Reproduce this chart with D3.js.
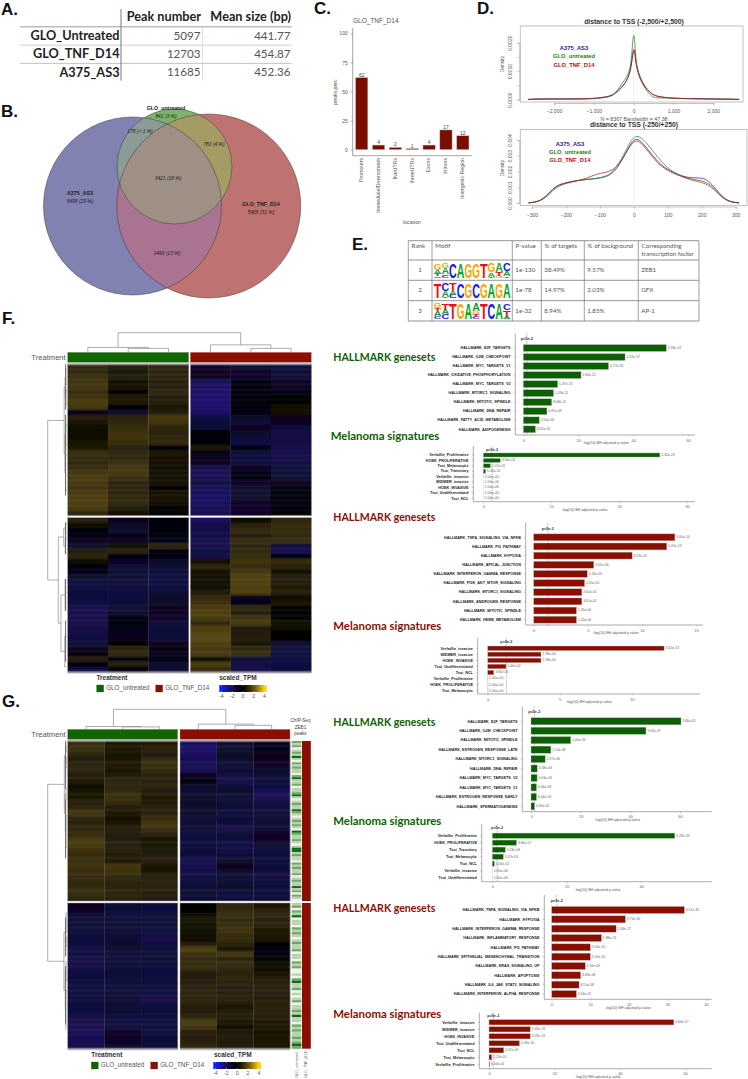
<!DOCTYPE html>
<html><head><meta charset="utf-8">
<script src="https://cdn.jsdelivr.net/npm/d3@7"></script>
<style>html,body{margin:0;padding:0;background:#fff}svg{display:block}text{font-family:"Liberation Sans",Arial,sans-serif}</style>
</head><body><div id="c"></div>
<script>
// ---------- DATA ----------
const tableAHead=["Peak number","Mean size (bp)"];
const tableARows=["GLO_Untreated","GLO_TNF_D14","A375_AS3"];
const tableAPeaks=["5097","12703","11685"];
const tableASizes=["441.77","454.87","452.36"];

const vennSets=["A375_AS3","GLO_TNF_D14","GLO_untreated"];

const locCats=["Promoters","Immediate/Downstream","fiveUTRs","threeUTRs","Exons","Introns","Intergenic Region"];
const locVals=[62,4,2,1,4,17,12];

const d1X=[-2650,-2400,-2000,-1500,-1000,-800,-600,-500,-400,-300,-200,-120,-60,-20,10,30,60,120,200,300,400,500,600,800,1000,1500,2000,2400,2650];
const d1Blue=[.00001,.00003,.00002,.00003,.00004,.00008,.00012,.00019,.00032,.00044,.00060,.00082,.00115,.00165,.00175,.00165,.00122,.00088,.00064,.00042,.00027,.00017,.00011,.00007,.00005,.00003,.00003,.00002,.00001];
const d1Green=[.00001,.00002,.00003,.00002,.00003,.00006,.00010,.00018,.00035,.00055,.00074,.00095,.00130,.00215,.00233,.00200,.00130,.00090,.00060,.00036,.00020,.00007,.00006,.00006,.00005,.00003,.00002,.00002,.00001];
const d1Red=[.00001,.00002,.00003,.00002,.00004,.00007,.00012,.00018,.00028,.00042,.00062,.00085,.00120,.00170,.00180,.00170,.00130,.00095,.00068,.00043,.00026,.00016,.00012,.00008,.00005,.00004,.00002,.00002,.00001];

const d2X=[-310,-290,-270,-250,-230,-200,-170,-140,-110,-80,-55,-30,-10,5,20,40,70,100,130,160,190,210,230,250,270,290,310];
const d2Blue=[.00001,.00005,.00020,.00060,.00110,.00130,.00142,.00150,.00155,.00165,.00200,.00290,.00375,.00412,.00395,.00345,.00260,.00210,.00180,.00160,.00160,.00155,.00120,.00065,.00022,.00005,.00001];
const d2Green=[.00001,.00004,.00018,.00052,.00100,.00125,.00140,.00150,.00155,.00170,.00210,.00305,.00395,.00427,.00420,.00375,.00290,.00220,.00180,.00150,.00135,.00125,.00098,.00055,.00018,.00004,.00001];
const d2Red=[.00001,.00006,.00022,.00062,.00108,.00128,.00140,.00155,.00185,.00195,.00215,.00290,.00370,.00400,.00385,.00335,.00250,.00205,.00175,.00155,.00145,.00135,.00108,.00060,.00020,.00005,.00001];

const motifHead=["Rank","Motif","P-value","% of targets","% of background","Corresponding"];
const motifRank=["1","2","3"];
const motifP=["1e-130","1e-78","1e-32"];
const motifTargets=["38.49%","14.97%","8.94%"];
const motifBg=["9.57%","2.03%","1.85%"];
const motifTF=["ZEB1","GFX","AP-1"];
const logo1=[[["C",.12],["T",.13],["A",.3],["G",.45]],[["C",.15],["T",.1],["A",.4],["G",.35]],[["C",1]],[["A",1]],[["G",1]],[["G",1]],[["T",1]],[["T",.1],["A",.3],["G",.6]],[["G",.15],["T",.25],["A",.6]],[["T",.12],["A",.33],["C",.55]]];
const logo2=[[["T",1]],[["T",.1],["A",.4],["C",.5]],[["C",.25],["A",.25],["T",.5]],[["C",1]],[["G",1]],[["C",1]],[["G",1]],[["A",1]],[["G",1]],[["A",1]]];
const logo3=[[["C",.2],["A",.3],["T",.2],["G",.3]],[["C",.3],["A",.3],["T",.4]],[["T",1]],[["G",1]],[["A",1]],[["C",.12],["T",.2],["G",.18],["A",.5]],[["T",1]],[["C",1]],[["A",1]],[["A",.15],["T",.4],["C",.45]]];

const pThreshold=1.3;

const fHallUpCats=["HALLMARK_E2F_TARGETS","HALLMARK_G2M_CHECKPOINT","HALLMARK_MYC_TARGETS_V1","HALLMARK_OXIDATIVE_PHOSPHORYLATION","HALLMARK_MYC_TARGETS_V2","HALLMARK_MTORC1_SIGNALING","HALLMARK_MITOTIC_SPINDLE","HALLMARK_DNA_REPAIR","HALLMARK_FATTY_ACID_METABOLISM","HALLMARK_ADIPOGENESIS"];
const fHallUpVals=[52,37,31,21,12.5,11,10.3,8.6,5.8,4.4];
const fHallUpP=["1.58e-52","2.52e-37","6.77e-32","1.84e-21","5.37e-13","1.43e-11","8.08e-11","4.87e-09","2.00e-06","8.02e-05"];

const fMelUpCats=["Verfaillie_Proliferative","HOEK_PROLIFERATIVE","Tsoi_Melanocytic","Tsoi_Transitory","Verfaillie_invasive","WIDMER_invasive","HOEK_INVASIVE","Tsoi_Undifferentiated","Tsoi_NCL"];
const fMelUpVals=[26,2.5,1.05,.35,0,0,0,0,0];
const fMelUpP=["1.32e-26","3.90e-03","1.07e-01","6.26e-01","1.00e+00","1.00e+00","1.00e+00","1.00e+00","1.00e+00"];

const fHallDnCats=["HALLMARK_TNFA_SIGNALING_VIA_NFKB","HALLMARK_PI3_PATHWAY","HALLMARK_HYPOXIA","HALLMARK_APICAL_JUNCTION","HALLMARK_INTERFERON_GAMMA_RESPONSE","HALLMARK_PI3K_AKT_MTOR_SIGNALING","HALLMARK_MTORC1_SIGNALING","HALLMARK_ANDROGEN_RESPONSE","HALLMARK_MITOTIC_SPINDLE","HALLMARK_HEME_METABOLISM"];
const fHallDnVals=[13.05,12.3,9.1,5.55,4.95,4.7,4.45,4.45,3.95,3.95];
const fHallDnP=["9.00e-14","5.05e-13","8.23e-10","3.51e-06","1.24e-05","2.05e-05","3.61e-05","3.61e-05","1.20e-04","1.20e-04"];

const fMelDnCats=["Verfaillie_invasive","WIDMER_invasive","HOEK_INVASIVE","Tsoi_Undifferentiated","Tsoi_NCL","Verfaillie_Proliferative","HOEK_PROLIFERATIVE","Tsoi_Melanocytic"];
const fMelDnVals=[12.25,3.7,3.7,1.27,.42,0,0,0];
const fMelDnP=["5.62e-13","1.98e-04","1.98e-04","5.40e-02","3.82e-01","1.00e+00","1.00e+00","1.00e+00"];

const gHallUpCats=["HALLMARK_E2F_TARGETS","HALLMARK_G2M_CHECKPOINT","HALLMARK_MITOTIC_SPINDLE","HALLMARK_ESTROGEN_RESPONSE_LATE","HALLMARK_MTORC1_SIGNALING","HALLMARK_DNA_REPAIR","HALLMARK_MYC_TARGETS_V2","HALLMARK_MYC_TARGETS_V1","HALLMARK_ESTROGEN_RESPONSE_EARLY","HALLMARK_SPERMATOGENESIS"];
const gHallUpVals=[60.4,46.3,16,8,5.7,2.5,2.45,2.2,2.2,1.4];
const gHallUpP=["5.80e-61","9.05e-47","1.00e-16","1.10e-08","2.27e-06","3.08e-03","4.03e-03","6.06e-03","6.04e-03","4.35e-02"];

const gMelUpCats=["Verfaillie_Proliferative","HOEK_PROLIFERATIVE","Tsoi_Transitory","Tsoi_Melanocytic","Tsoi_NCL","Verfaillie_invasive","Tsoi_Undifferentiated"];
const gMelUpVals=[49,6.5,3.5,2.95,.55,0,0];
const gMelUpP=["1.28e-49","3.66e-07","3.28e-04","1.67e-03","4.06e-01","1.00e+00","1.00e+00"];

const gHallDnCats=["HALLMARK_TNFA_SIGNALING_VIA_NFKB","HALLMARK_HYPOXIA","HALLMARK_INTERFERON_GAMMA_RESPONSE","HALLMARK_INFLAMMATORY_RESPONSE","HALLMARK_PI3_PATHWAY","HALLMARK_EPITHELIAL_MESENCHYMAL_TRANSITION","HALLMARK_KRAS_SIGNALING_UP","HALLMARK_APOPTOSIS","HALLMARK_IL6_JAK_STAT3_SIGNALING","HALLMARK_INTERFERON_ALPHA_RESPONSE"];
const gHallDnVals=[34.4,19.1,16.7,12.9,10,10,8.7,7.5,7.1,6.4];
const gHallDnP=["4.51e-35","9.71e-20","2.44e-17","1.88e-13","1.05e-10","1.05e-10","2.16e-09","3.68e-08","8.51e-08","4.34e-07"];

const gMelDnCats=["Verfaillie_invasive","WIDMER_invasive","HOEK_INVASIVE","Tsoi_Undifferentiated","Tsoi_NCL","Tsoi_Melanocytic","Verfaillie_Proliferative"];
const gMelDnVals=[56.5,12.6,12.6,9.3,4.5,.85,.2];
const gMelDnP=["3.64e-57","3.03e-13","3.03e-13","5.93e-10","3.62e-05","2.20e-01","6.06e-01"];

const heatF=[
[1,.7,.9,-.9,-1.2,-1.4],[1,.5,.9,-.7,-.9,-1.2],[1.2,.7,.9,-.6,-.9,-1.3],[1.3,.3,.8,-2,-.4,-.8],[1.4,.4,.8,-2.3,-.3,-.6],[1.1,.1,1,-2.4,-.4,-.5],[1.3,.6,.7,-2.5,-.4,-.1],[1.5,.6,.7,-2.5,-.4,0],[1.4,.1,.5,-2.5,-.3,.3],[-.5,-1,.7,-2.3,-.4,.4],
[.8,.9,1.5,-1.5,-1,-.6],[.6,1,1.4,-1.4,-1.3,-.7],[.3,1.2,1,-1.3,-.6,-1.5],[.2,1.3,.9,-.1,-1,-1.6],[.2,1.4,1,-.2,-1.4,-1.6],[.5,1.2,1.1,-.3,-1.5,-1.6],[.6,.9,-.2,.6,-.4,-1.7],[1.2,1,.5,-.5,-1.3,-1.8],[1.1,1,.4,-.6,-1.4,-1.7],[1,1.2,.4,-.6,-1.5,-1.5],
[1.1,1.4,.3,-1.7,-.6,-1.4],[1.4,1.4,.3,-1.9,-.5,-1.2],[1.5,1.2,.2,-1.9,-.4,-1.1],[1.4,.9,.4,-1.5,-.9,-.7],[1.3,.9,.1,-2,-1,-.4],[1.5,.9,.4,-2.1,-1.1,-.3],[1.6,1,.4,-2.2,-1,-.3],[1.6,1,.3,-2.2,-.9,-.3],[1.5,.7,.1,-2,-.9,-.3],[1,.4,-.1,-1.8,-.9,.1],
[.9,-.6,-.3,-2.4,.2,1],[.2,-1,-.2,-1.6,.9,1.2],[-.4,-1.1,-.3,-1.7,1.1,1.1],[-.4,-.5,-.4,-1.5,.8,1],[-.8,-.8,-.5,-1.8,1.1,1.2],[-1,.2,.9,-1.8,.9,-1.3],[.7,.9,-.3,-1.5,1,-2],[1,-.2,-.4,-1.6,1.2,-.3],[.3,-.9,-1,.4,1.4,1.2],[-.3,-1.2,-1.2,1,1.2,.9],
[-.5,-1.2,-1.4,.4,1.4,.2],[-1,-1.2,-1.5,.3,1.7,.8],[-1.4,-1.3,-1.5,.3,1.6,.7],[-1.5,-1.3,-1.4,.2,1.6,.6],[-1.4,-1.5,-1.2,.7,1.7,.9],[-1.4,-1.5,-1,1.1,-.8,.3],[-1.5,-1.2,-1,1.3,-.5,.6],[-1.8,-1.2,-.8,1.5,1,.1],[-1.8,-1,-.7,1.6,.8,-.1],[-1.7,-.4,-.9,1.5,1.3,.1],
[-1.7,-.4,-1.2,1,1.5,.4],[-1.6,-.5,-1.3,1.7,.7,.2],[-1.6,-.6,-1.4,1.8,.7,0],[-1.5,-.6,-1.3,1.9,.8,.1],[-1.2,0,-.7,1.6,.5,-1],[-.7,.9,-.3,1.4,1,-1.5],[-.4,1,-.6,1.5,1.2,-1.5],[.8,-.4,-.5,.3,-1.4,-1.5],[-.2,.9,-1,1.6,-1.6,-1.5],[-1.5,-.4,-1.3,1.1,-1.7,-1.4]];

const heatG=[
[1.1,.5,.6,-2.2,-1,-.6],[1.2,.6,.8,-2.4,-1.1,-.5],[1,.5,.8,-2.3,-1,-.6],[.7,.6,1.1,-2,-1.1,-.7],[.9,.6,1.2,-2,-1.2,-.9],[1,.6,1.1,-1.9,-1.3,-1],[.8,.7,.9,-.7,-1.6,-1.3],[.6,.9,.8,-.3,-1.6,-1.4],[.2,1,1,-1,-1.5,-1.5],[.5,1.1,.8,-1.2,-1,-1.9],
[.5,1.2,.6,-1,-1.2,-1.9],[.9,1.1,.7,-1,-1.2,-1.6],[1,.8,.9,-1.1,-1.2,-1.5],[1.4,.6,.8,-1,-1.4,-1.3],[1,.4,1.2,-1.2,-1.3,-1.2],[.9,.6,1.4,-1.3,-1.5,-1.3],[1,.7,1.2,-1.3,-1.6,-1.1],[1.1,.7,.9,-1.5,-1.3,-.9],[1.5,.7,.5,-1.5,-1.4,-.9],[1.5,.8,.5,-1.3,-1.5,-1.2],
[1.3,.9,.7,-1.4,-1.6,-1.4],[1.1,.8,.8,-1.5,-1.4,-1.4],[1.2,.6,.8,-1.7,-1,-1.3],[1.3,1.4,.5,-1.8,-.7,-1.4],[1.2,1.3,.6,-1.6,-1.1,-1.5],[1.1,1,.8,-1.5,-1.3,-1.6],[1,.9,.9,-1.4,-1.2,-1.5],[1.1,.9,.9,-1.2,-1.1,-1.4],[1.1,.9,.8,-1.2,-1.4,-1.4],[1,.9,.8,-1.3,-1.5,-1.4],
[-.7,-1.3,-1.4,-.1,1,.6],[-.9,-1.3,-1.4,-.1,1.1,.9],[-1.3,-1.4,-1.3,.3,1.2,1],[-1.3,-1.3,-1.3,.5,1,.8],[-1.2,-1.2,-1.4,.3,1.1,.9],[-1.3,-1.3,-1.5,.2,1.3,.5],[-1.3,-1.2,-1.6,.3,1.1,.6],[-1.4,-1.3,-1.7,.4,1.2,.6],[-1.4,-1,-1.4,.8,.9,0],[-1.6,-1.2,-1.4,1.7,.5,-.2],
[-1.5,-1.3,-1.3,1.2,1.4,-.2],[-1.7,-1.3,-1.2,1,.9,.1],[-1.7,-1.4,-1.3,1.1,1.1,.2],[-1.6,-1.4,-1.4,1.1,1,.3],[-1.5,-1.2,-1.5,.8,.9,.6],[-1.4,-1.3,-1.5,.7,1,.7],[-1.5,-1.4,-1.4,.8,.9,.8],[-1.4,-1.4,-1.4,.9,.8,.9],[-1.4,-1.3,-1.5,.9,.8,.8],[-1.4,-1.2,-1.7,.9,.9,.7],
[-1.5,-1.3,-1.6,.9,.7,.9],[-1.4,-1.2,-1.5,.8,.6,.9],[-1.5,-1.3,-1.4,.8,.8,.9],[-1.6,-1.4,-1.4,1,.7,.8],[-1.7,-1.5,-1.5,1.5,.6,.6],[-1.8,-1.4,-1.4,1.4,.2,.5],[-1.9,-.9,-1.5,.8,.6,.4],[-2,-.8,-1.4,.8,.7,.5],[-1.9,-.9,-1.3,.9,.7,.6],[-1.7,-1.1,-1.4,1,.8,.6]];

const chipStrip=[2,1,2,0,1,2,1,3,1,0,2,1,2,1,1,0,2,3,1,1,2,0,1,1,2,3,1,0,1,2,1,1,3,2,1,0,1,2,1,2,1,0,3,2,1,1,2,1,0,1,3,3,1,2,1,1,0,2,1,2,1,1,2,0,1,2,1,1,3,1,2,0,2,1,0,
1,2,0,2,1,3,0,1,1,0,2,1,2,1,0,1,2,1,1,2,0,1,1,0,2,1,2,0,0,1,0,2,3,1,1,2,0,1,0,1,2,0,1,1,2,1,3,1,1,0,2,1,2,1,1,2,1,2,3,2];
const chipSplit=75;

const heatStops=[-4,-2.6,0,2,4];
const heatColors=["#0a22ff","#1e1270","#000000","#5e4d14","#ffd200"];
const chipColors=["#f0f3ec","#b9d2ad","#6ea862","#0e6a12"];
const topTreeF=[1,[.25,0,[.2,1,2]],[.38,3,[.2,4,5]]];
const topTreeG=[1,[.14,0,[.12,1,2]],[.26,3,[.2,4,5]]];
const rowTreeF=[1,[.13,[.08,[.04,1,4],[.04,5,8]],[.09,[.05,12,16],[.06,18,25]]],[.44,[.15,[.06,31,33],[.07,34,37]],[.3,[.08,42,48],[.1,53,59]]]];
const rowTreeG=[1,[.12,[.06,[.03,1,2],[.03,3,5]],[.07,[.03,9,11],[.04,14,20]]],[.14,[.06,[.03,32,36],[.03,37,39]],[.07,[.03,42,46],[.04,48,56]]]];

// ---------- SETUP ----------
const W=748,H=1079,RED="#8a0f00",GREEN="#0c5f02",NAVY="#1c1a8c",CAL='Lato,"Open Sans",sans-serif';
const svg=d3.select("#c").append("svg").attr("width",W).attr("height",H).attr("viewBox",[0,0,W,H]);
const defs=svg.append("defs");
defs.append("filter").attr("id","soft").attr("x","-2%").attr("y","-2%").attr("width","104%").attr("height","104%")
  .append("feGaussianBlur").attr("stdDeviation","0 .8");
function txt(g,s,x,y,o={}){
  const t=g.append("text").attr("x",x).attr("y",y).text(s)
   .attr("font-size",o.fs||5).attr("fill",o.fill||"#333").attr("dominant-baseline",o.base||"middle")
   .attr("text-anchor",o.anchor||"start");
  if(o.w!=null)t.attr("font-weight",o.w);
  if(o.font)t.style("font-family",o.font);
  if(o.it)t.attr("font-style","italic");
  if(o.tl)t.attr("textLength",o.tl).attr("lengthAdjust","spacingAndGlyphs");
  if(o.rot!=null)t.attr("transform",`rotate(${o.rot},${x},${y})`);
  return t;
}
[["A.",1,11],["B.",1,113],["C.",314,10],["D.",477,10],["E.",352,246],["F.",2,320],["G.",2,703]]
 .forEach(d=>txt(svg,d[0],d[1],d[2],{fs:17,w:700,fill:"#111"}));

// ---------- A ----------
(function(){const g=svg.append("g");
 const rowY=d3.scalePoint().domain(tableARows).range([36.7,73.3]);
 [[20,291.7,26.7,1.6,"#bdbdbd"],[20,291.7,45.2,.8,"#c8c8c8"],[20,291.7,63.4,.8,"#b5b5b5"]].forEach(l=>g.append("line").attr("x1",l[0]).attr("x2",l[1]).attr("y1",l[2]).attr("y2",l[2]).attr("stroke-width",l[3]).attr("stroke",l[4]));
 g.append("line").attr("x1",121).attr("x2",121).attr("y1",9).attr("y2",80.7).attr("stroke","#555").attr("stroke-width",.8);
 g.append("line").attr("x1",202.4).attr("x2",202.4).attr("y1",27).attr("y2",80.7).attr("stroke","#ccc").attr("stroke-width",.7);
 txt(g,tableAHead[0],201,17.7,{fs:12.7,w:700,anchor:"end",fill:"#222",font:CAL});
 txt(g,tableAHead[1],291,17.7,{fs:12.7,w:700,anchor:"end",fill:"#222",font:CAL});
 tableARows.forEach((r,i)=>{const y=rowY(r);
  txt(g,r,119.5,y,{fs:12.7,w:700,anchor:"end",fill:"#222",font:CAL});
  txt(g,tableAPeaks[i],200.5,y,{fs:11.6,anchor:"end",fill:"#555",font:CAL});
  txt(g,tableASizes[i],290.5,y,{fs:11.6,anchor:"end",fill:"#555",font:CAL});
 });
})();

// ---------- B ----------
(function(){const g=svg.append("g");
 const B={id:"vb",c:[132.5,206,89]},R={id:"vr",c:[208.7,206,92]},G={id:"vg",c:[174.5,166.5,57.5]};
 [B,R,G].forEach(s=>defs.append("clipPath").attr("id",s.id).append("circle").attr("cx",s.c[0]).attr("cy",s.c[1]).attr("r",s.c[2]));
 const disc=(p,s,fill,stroke)=>p.append("circle").attr("cx",s.c[0]).attr("cy",s.c[1]).attr("r",s.c[2]).attr("fill",fill).attr("stroke",stroke||"none").attr("stroke-width",.5);
 disc(g,G,"#7cb46c");disc(g,B,"#8181b2");disc(g,R,"#be7272");
 const clip=(p,id)=>p.append("g").attr("clip-path",`url(#${id})`);
 disc(clip(g,"vb"),R,"#a97391");
 disc(clip(g,"vb"),G,"#8c9b96");
 disc(clip(g,"vr"),G,"#a59b64");
 disc(clip(clip(g,"vb"),"vr"),G,"#9f9086");
 [B,R,G].forEach(s=>disc(g,s,"none","#3a3a3a"));
 const L=[[vennSets[2],166,109,1],["842 (3 %)",166,117,0],["178 (< 1 %)",140,132,0],["781 (4 %)",214,145,0],["3421 (18 %)",168,179,0],[vennSets[0],80,194,1],["5498 (29 %)",80,201.5,0],[vennSets[1],261,205,1],["5908 (31 %)",261,213,0],["2493 (13 %)",167,254,0]];
 L.forEach(d=>txt(g,d[0],d[1],d[2],{fs:d[3]?5.3:4.9,w:d[3]?700:400,it:!d[3],anchor:"middle",fill:"#222"}));
})();

// ---------- C ----------
(function(){const g=svg.append("g");
 const x=d3.scaleBand().domain(locCats).range([353.5,471]).paddingInner(.27).paddingOuter(.12);
 const y=d3.scaleLinear().domain([0,100]).range([149.7,33.3]);
 g.selectAll("rect").data(locCats).join("rect").attr("x",d=>x(d)).attr("width",x.bandwidth()).attr("y",(d,i)=>y(locVals[i])).attr("height",(d,i)=>y(0)-y(locVals[i])).attr("fill","#7a0c00").attr("stroke","#c9c9c9").attr("stroke-width",.5);
 g.selectAll(".v").data(locCats).join("text").attr("class","v").attr("x",d=>x(d)+x.bandwidth()/2).attr("y",(d,i)=>y(locVals[i])-1).attr("text-anchor","middle").attr("font-size",5).attr("fill","#444").text((d,i)=>locVals[i]);
 const ay=g.append("g").attr("transform","translate(352.7,0)").call(d3.axisLeft(y).tickValues([0,25,50,75,100]).tickSize(2));
 ay.select(".domain").remove();ay.selectAll("text").attr("font-size",5).attr("fill","#555");ay.selectAll("line").attr("stroke","#666").attr("stroke-width",.5);
 g.append("line").attr("x1",352.7).attr("x2",352.7).attr("y1",28).attr("y2",155.7).attr("stroke","#666").attr("stroke-width",.6);
 g.append("line").attr("x1",352.7).attr("x2",471.7).attr("y1",155.7).attr("y2",155.7).attr("stroke","#666").attr("stroke-width",.6);
 locCats.forEach(c=>txt(g,c,x(c)+x.bandwidth()/2,158,{fs:5.2,anchor:"end",fill:"#555",rot:-90}));
 txt(g,"GLO_TNF_D14",353,21,{fs:6.5,fill:"#555"});
 txt(g,"peaks.perc",336,92,{fs:5.2,anchor:"middle",fill:"#555",rot:-90});
 txt(g,"location",412,223,{fs:5.2,anchor:"middle",fill:"#555"});
})();

// ---------- D ----------
function density(o){const g=svg.append("g");
 const x=d3.scaleLinear().domain(o.xd).range(o.xr);
 const y=d3.scaleLinear().domain([0,o.ymax]).range([o.y0,o.y1]);
 g.append("rect").attr("x",o.fx).attr("y",o.fy).attr("width",o.fw).attr("height",o.fh).attr("fill","none").attr("stroke","#bbb").attr("stroke-width",.9);
 g.append("line").attr("x1",x(0)).attr("x2",x(0)).attr("y1",o.fy).attr("y2",o.fy+o.fh).attr("stroke","#e8e8e8").attr("stroke-width",.6);
 const line=d3.line().x((d,i)=>x(o.X[i])).y(d=>y(d)).curve(d3.curveBasis);
 [[o.blue,NAVY],[o.green,"#1f7f14"],[o.red,"#b01010"]].forEach(s=>g.append("path").attr("d",line(s[0])).attr("fill","none").attr("stroke",s[1]).attr("stroke-width",.7));
 const ax=g.append("g").attr("transform",`translate(0,${o.fy+o.fh+1})`).call(d3.axisBottom(x).tickValues(o.xt).tickSize(2));
 ax.select(".domain").attr("stroke","#888").attr("stroke-width",.5);ax.selectAll("line").attr("stroke","#888").attr("stroke-width",.5);ax.selectAll("text").attr("font-size",5).attr("fill","#555").attr("dy","5");
 const ay=g.append("g").attr("transform",`translate(${o.fx-1},0)`).call(d3.axisLeft(y).tickValues(o.yt).tickSize(2).tickFormat(o.yf));
 ay.select(".domain").attr("stroke","#888").attr("stroke-width",.5);ay.selectAll("line").attr("stroke","#888").attr("stroke-width",.5);
 ay.selectAll("text").attr("font-size",5).attr("fill","#555").attr("text-anchor","middle").attr("dy","0").attr("transform","rotate(-90,-9,0)").attr("x",-9).attr("y",0).attr("dominant-baseline","middle");
 txt(g,o.title,634,o.ty,{fs:6.8,w:700,anchor:"middle",fill:"#333"});
 txt(g,"Density",503,o.dy,{fs:4.8,anchor:"middle",fill:"#555",rot:-90});
 o.leg.forEach((l,i)=>txt(g,l,o.lx,o.ly[i],{fs:5.8,w:700,anchor:"middle",fill:[NAVY,"#1f7f14","#b01010"][i]}));
}
density({X:d1X,blue:d1Blue,green:d1Green,red:d1Red,xd:[-2000,2000],xr:[554,713.3],ymax:.002,y0:99.7,y1:42.7,fx:520.3,fy:26,fw:222.7,fh:76,xt:[-2000,-1000,0,1000,2000],yt:[0,.0005,.001,.0015,.002],yf:d=>[0,.001,.002].includes(d)?d3.format(".4f")(d):"",title:"distance to TSS (-2,500/+2,500)",ty:22,dy:64,leg:["A375_AS3","GLO_untreated","GLO_TNF_D14"],lx:574,ly:[48,56.7,65]});
txt(svg,"N = 8367   Bandwidth = 47.38",634,119.7,{fs:5.3,anchor:"middle",fill:"#555"});
density({X:d2X,blue:d2Blue,green:d2Green,red:d2Red,xd:[-300,300],xr:[532,735.7],ymax:.004,y0:203,y1:140,fx:520.3,fy:129.5,fw:226.7,fh:76,xt:[-300,-200,-100,0,100,200,300],yt:[0,.001,.002,.003,.004],yf:d3.format(".3f"),title:"distance to TSS (-250/+250)",ty:125.5,dy:168,leg:["A375_AS3","GLO_untreated","GLO_TNF_D14"],lx:570,ly:[144,152,160]});

// ---------- E ----------
(function(){const g=svg.append("g");
 const cols=[408.3,432,512.3,541.3,584.3,638.3,699],rows=[240.7,260,280.3,300.7,321];
 cols.forEach(c=>g.append("line").attr("x1",c).attr("x2",c).attr("y1",rows[0]).attr("y2",rows[4]).attr("stroke","#777").attr("stroke-width",.7));
 rows.forEach(r=>g.append("line").attr("x1",cols[0]).attr("x2",cols[6]).attr("y1",r).attr("y2",r).attr("stroke","#777").attr("stroke-width",.8));
 const fo={fs:6.2,fill:"#555",font:CAL};
 motifHead.forEach((h,i)=>txt(g,h,cols[i]+3.3,246.7,fo));
 txt(g,"transcription factor",cols[5]+3.3,254.7,fo);
 const mid=[270.3,290.5,311];
 motifRank.forEach((r,i)=>{
  txt(g,r,420,mid[i],{...fo,anchor:"middle"});
  txt(g,motifP[i],cols[2]+3,mid[i],fo);txt(g,motifTargets[i],cols[3]+3,mid[i],fo);txt(g,motifBg[i],cols[4]+3,mid[i],fo);txt(g,motifTF[i],cols[5]+3,mid[i],fo);
 });
 const col={A:"#11a32b",C:"#1220d8",G:"#f7a500",T:"#e3120f"};
 const lg=g.append("g");
 function logo(data,base,h){
  const x=d3.scaleBand().domain(d3.range(data.length)).range([433.7,510.7]);
  data.forEach((st,i)=>{let acc=0;st.forEach(([L,f])=>{
    const hh=f*h,fs=20,adv={A:.722,C:.722,G:.778,T:.611}[L]*fs;
    const sx=x.bandwidth()/adv,sy=hh/(.716*fs),yb=base-acc;
    lg.append("text").attr("transform",`translate(${x(i)},${yb}) scale(${sx},${sy})`).attr("font-size",fs).attr("font-weight",700).attr("fill",col[L]).text(L);
    acc+=hh;});});
 }
 logo(logo1,278,14.7);logo(logo2,298.3,15);logo(logo3,319,15.6);
})();

// ---------- HEATMAPS ----------
const color=d3.scaleLinear().domain(heatStops).range(heatColors);
function dendro(g,tree,pos,depth,vertical){
 (function rec(n){
  if(typeof n==="number")return{p:pos(n),d:depth(0)};
  const kids=n.slice(1).map(rec),d=depth(n[0]),a=kids[0],b=kids[1],p=(a.p+b.p)/2;
  const path=vertical?`M${a.p},${a.d}V${d}H${b.p}V${b.d}`:`M${a.d},${a.p}H${d}V${b.p}H${b.d}`;
  g.append("path").attr("d",path).attr("fill","none").attr("stroke","#8a8a8a").attr("stroke-width",.7);
  return{p,d};
 })(tree);
}
function heat(o){const g=svg.append("g");
 const colPos=i=>i<3?o.x0+(i+.5)*o.cw:o.x1+(i-3+.5)*o.cw;
 const rowY=d3.scaleLinear().domain([0,30,30.0001,60]).range([o.t1,o.b1,o.t2,o.b2]);
 const cells=g.append("g").attr("filter","url(#soft)");
 o.data.forEach((row,r)=>row.forEach((v,c)=>{
  const x=c<3?o.x0+c*o.cw:o.x1+(c-3)*o.cw,y0=rowY(r),y1=r===29?o.b1:rowY(r+1);
  cells.append("rect").attr("x",x).attr("y",y0).attr("width",o.cw+.2).attr("height",y1-y0+.2).attr("fill",color(v));
 }));
 g.append("rect").attr("x",o.x0-1).attr("y",o.b1).attr("width",o.x1+3*o.cw-o.x0+2).attr("height",o.t2-o.b1).attr("fill","#fff");
 [[o.x0,o.t1,o.b1],[o.x0,o.t2,o.b2],[o.x1,o.t1,o.b1],[o.x1,o.t2,o.b2]].forEach(f=>g.append("rect").attr("x",f[0]).attr("y",f[1]).attr("width",3*o.cw).attr("height",f[2]-f[1]).attr("fill","none").attr("stroke","#999").attr("stroke-width",.5));
 g.append("rect").attr("x",o.x0).attr("y",o.barY).attr("width",3*o.cw).attr("height",10).attr("fill","#0f6600").attr("stroke","#999").attr("stroke-width",.4);
 g.append("rect").attr("x",o.x1).attr("y",o.barY).attr("width",3*o.cw).attr("height",10).attr("fill",RED).attr("stroke","#c88").attr("stroke-width",.4);
 txt(g,"Treatment",65.7,o.barY+5.3,{fs:7.6,anchor:"end",fill:"#555"});
 const dd=d3.scaleLinear().domain([0,1]).range([o.barY,o.topY]);
 dendro(g,o.top,colPos,dd,true);
 const dr=d3.scaleLinear().domain([0,1]).range([66.6,47.7]);
 dendro(g,o.rows,rowY,dr,false);
 o.leafBars.forEach(b=>g.append("line").attr("x1",65.6).attr("x2",65.6).attr("y1",rowY(b[0])).attr("y2",rowY(b[1])).attr("stroke","#666").attr("stroke-width",1));
}
heat({data:heatF,x0:67.7,x1:190.3,cw:40.33,t1:364.3,b1:515.7,t2:517.7,b2:672,barY:352.3,topY:332.7,top:topTreeF,rows:rowTreeF,leafBars:[[0,9],[10,26],[31,37],[42,48],[50,58]]});
heat({data:heatG,x0:67.7,x1:180,cw:36.67,t1:741,b1:901,t2:903,b2:1048.7,barY:729.3,topY:709.3,top:topTreeG,rows:rowTreeG,leafBars:[[0,9],[11,22],[33,41],[43,55]]});

// G side strips
(function(){const g=svg.append("g");
 const yU=d3.scaleBand().domain(d3.range(chipSplit)).range([741,901]);
 const yL=d3.scaleBand().domain(d3.range(chipSplit,chipStrip.length)).range([903,1048.7]);
 const cs=d3.scaleOrdinal().domain([0,1,2,3]).range(chipColors);
 chipStrip.forEach((v,i)=>{const y=i<chipSplit?yU:yL;
  g.append("rect").attr("x",291.7).attr("width",9.6).attr("y",y(i)).attr("height",y.bandwidth()+.1).attr("fill",cs(v));});
 [[741,901],[903,1048.7]].forEach(b=>{g.append("rect").attr("x",302).attr("width",8.8).attr("y",b[0]).attr("height",b[1]-b[0]).attr("fill",RED);});
 ["ChIP-Seq","ZEB1","peaks"].forEach((t,i)=>txt(g,t,300.5,720.7+i*6.7,{fs:4.6,anchor:"middle",fill:"#444"}));
 txt(g,"GLO_untreated",296.5,1078,{fs:3.8,fill:"#666",rot:-90});
 txt(g,"GLO_TNF_D14",306.3,1078,{fs:3.8,fill:"#666",rot:-90});
})();

// legends
function heatLegend(o){const g=svg.append("g");
 txt(g,"Treatment",o.tx,o.ty,{fs:6.5,w:700,anchor:o.tanchor,fill:"#333"});
 g.append("rect").attr("x",o.s1).attr("y",o.sy).attr("width",7).attr("height",7).attr("fill","#0f6600").attr("stroke","#444").attr("stroke-width",.3);
 txt(g,"GLO_untreated",o.s1+9.5,o.sy+3.7,{fs:6.3,fill:"#555"});
 g.append("rect").attr("x",o.s2).attr("y",o.sy).attr("width",7).attr("height",7).attr("fill",RED).attr("stroke","#444").attr("stroke-width",.3);
 txt(g,"GLO_TNF_D14",o.s2+9.5,o.sy+3.7,{fs:6.3,fill:"#555"});
 txt(g,"scaled_TPM",o.ctx,o.ty,{fs:6.5,w:700,anchor:o.canchor,fill:"#333"});
 const id="grad"+o.id,gr=defs.append("linearGradient").attr("id",id);
 const cb=d3.scaleLinear().domain([-4.4,4.4]).range([o.c0,o.c1]);
 d3.range(-4.4,4.41,.4).forEach(v=>gr.append("stop").attr("offset",(v+4.4)/8.8).attr("stop-color",color(Math.max(-4,Math.min(4,v)))));
 g.append("rect").attr("x",o.c0).attr("y",o.sy).attr("width",o.c1-o.c0).attr("height",7).attr("fill",`url(#${id})`);
 [-4,-2,0,2,4].forEach(t=>{
  txt(g,t,cb(t),o.sy+12,{fs:5.2,anchor:"middle",fill:"#555"});
  g.append("line").attr("x1",cb(t)).attr("x2",cb(t)).attr("y1",o.sy).attr("y2",o.sy+1.2).attr("stroke","#fff").attr("stroke-width",.4);
  g.append("line").attr("x1",cb(t)).attr("x2",cb(t)).attr("y1",o.sy+5.8).attr("y2",o.sy+7).attr("stroke","#fff").attr("stroke-width",.4);
 });
}
heatLegend({id:"F",tx:112,ty:678.5,tanchor:"middle",s1:96.7,s2:155.7,sy:685,ctx:238,canchor:"middle",c0:219.3,c1:266.7});
heatLegend({id:"G",tx:91.3,ty:1055.7,tanchor:"start",s1:91.3,s2:150.7,sy:1062,ctx:214,canchor:"start",c0:213.3,c1:261});

// ---------- BAR PANELS ----------
function barPanel(o){const g=svg.append("g");
 const x=d3.scaleLinear().domain([0,o.tMax]).range([o.x0,o.xT]);
 const step=(o.yLast-o.yFirst)/(o.cats.length-1);
 const y=d3.scaleBand().domain(o.cats).range([o.yFirst-step/2,o.yLast+step/2]).paddingInner(.25).paddingOuter(.125);
 g.selectAll("rect").data(o.cats).join("rect").attr("x",o.x0).attr("y",d=>y(d)).attr("height",y.bandwidth())
  .attr("width",(d,i)=>Math.max(x(o.vals[i])-o.x0,.4)).attr("fill",(d,i)=>o.vals[i]>0?o.color:"#fff").attr("stroke","#b5b5b5").attr("stroke-width",.4);
 const ax=g.append("g").attr("transform",`translate(0,${o.yB})`).call(d3.axisBottom(x).tickValues(o.ticks).tickSize(1.5));
 ax.select(".domain").remove();ax.selectAll("line").attr("stroke","#777").attr("stroke-width",.4);ax.selectAll("text").attr("font-size",4).attr("fill","#666").attr("dy","2");
 const ay=g.append("g").attr("transform",`translate(${o.ax},0)`).call(d3.axisLeft(y).tickSize(1.5));
 ay.select(".domain").remove();ay.selectAll("line").attr("stroke","#777").attr("stroke-width",.4);
 ay.selectAll("text").attr("font-size",o.lfs||3.75).attr("font-weight",700).attr("fill","#222").attr("dx","-.3");
 g.append("line").attr("x1",o.ax).attr("x2",o.ax).attr("y1",o.yT).attr("y2",o.yB).attr("stroke","#888").attr("stroke-width",.7);
 g.append("line").attr("x1",o.ax).attr("x2",o.xE).attr("y1",o.yB).attr("y2",o.yB).attr("stroke","#888").attr("stroke-width",.7);
 g.append("line").attr("x1",x(pThreshold)).attr("x2",x(pThreshold)).attr("y1",o.yT).attr("y2",o.yB).attr("stroke","#333").attr("stroke-width",.35).attr("stroke-dasharray","1.4 .9");
 txt(g,"p=5e-2",x(pThreshold),o.pY,{fs:3.8,w:700,anchor:"middle",fill:"#333"});
 o.cats.forEach((c,i)=>txt(g,o.p[i],x(o.vals[i])+1.4,y(c)+y.bandwidth()/2,{fs:3.4,fill:"#666"}));
 txt(g,"-log(10) BH adjusted p-value",o.tX,o.tY,{fs:3.6,anchor:"middle",fill:"#555"});
}
barPanel({cats:fHallUpCats,vals:fHallUpVals,p:fHallUpP,color:GREEN,x0:523.3,xT:688.3,tMax:60,ticks:[0,20,40,60],yFirst:348,yLast:429.3,ax:515.3,yT:333.3,yB:435,xE:695,pY:339.3,tX:606,tY:443});
barPanel({cats:fMelUpCats,vals:fMelUpVals,p:fMelUpP,color:GREEN,x0:483.3,xT:687,tMax:30,ticks:[0,10,20,30],yFirst:455,yLast:498.3,ax:473.3,yT:446,yB:501.7,xE:695,pY:449.5,tX:584.7,tY:510});
barPanel({cats:fHallDnCats,vals:fHallDnVals,p:fHallDnP,color:RED,x0:533.7,xT:696,tMax:15,ticks:[0,5,10,15],yFirst:537.3,yLast:619.7,ax:525.7,yT:522.7,yB:625,xE:703,pY:528.7,tX:615.7,tY:633});
barPanel({cats:fMelDnCats,vals:fMelDnVals,p:fMelDnP,color:RED,x0:487.7,xT:631.7,tMax:10,ticks:[0,5,10],yFirst:648.3,yLast:690.7,ax:477.7,yT:638,yB:694,xE:700,pY:642.3,tX:589,tY:702});
barPanel({cats:gHallUpCats,vals:gHallUpVals,p:gHallUpP,color:GREEN,x0:531,xT:680,tMax:60,ticks:[0,20,40,60],yFirst:721.3,yLast:806.3,ax:522.3,yT:706.7,yB:811.7,xE:711.7,pY:712.3,tX:617.3,tY:820.3});
barPanel({cats:gMelUpCats,vals:gMelUpVals,p:gMelUpP,color:GREEN,x0:492.3,xT:641.3,tMax:40,ticks:[0,20,40],yFirst:835.7,yLast:877.7,ax:481.7,yT:824.3,yB:881.7,xE:711.7,pY:828.3,tX:597.7,tY:890});
barPanel({cats:gHallDnCats,vals:gHallDnVals,p:gHallDnP,color:RED,x0:551.7,xT:706,tMax:40,ticks:[0,10,20,30,40],yFirst:910,yLast:994,ax:544.3,yT:895,yB:999.3,xE:711.7,pY:900.7,tX:628,tY:1008});
barPanel({cats:gMelDnCats,vals:gMelDnVals,p:gMelDnP,color:RED,x0:489,xT:685.3,tMax:60,ticks:[0,20,40,60],yFirst:1022.3,yLast:1064.3,ax:479.3,yT:1012.7,yB:1068.7,xE:711.7,pY:1015.7,tX:598,tY:1076.7});

// ---------- HEADINGS ----------
[["HALLMARK genesets",333.3,358,GREEN,102],["Melanoma signatures",330.7,437,GREEN,108.7],["HALLMARK genesets",333.3,518.3,RED,102],["Melanoma signatures",333.3,627,RED,108],["HALLMARK genesets",333.3,723,GREEN,102],["Melanoma signatures",333.3,822,GREEN,108],["HALLMARK genesets",333.3,908.7,RED,102],["Melanoma signatures",333.3,1014.7,RED,108]]
 .forEach(d=>txt(svg,d[0],d[1],d[2],{fs:11.2,w:700,fill:d[3],font:CAL,tl:d[4]}));
</script></body></html>
